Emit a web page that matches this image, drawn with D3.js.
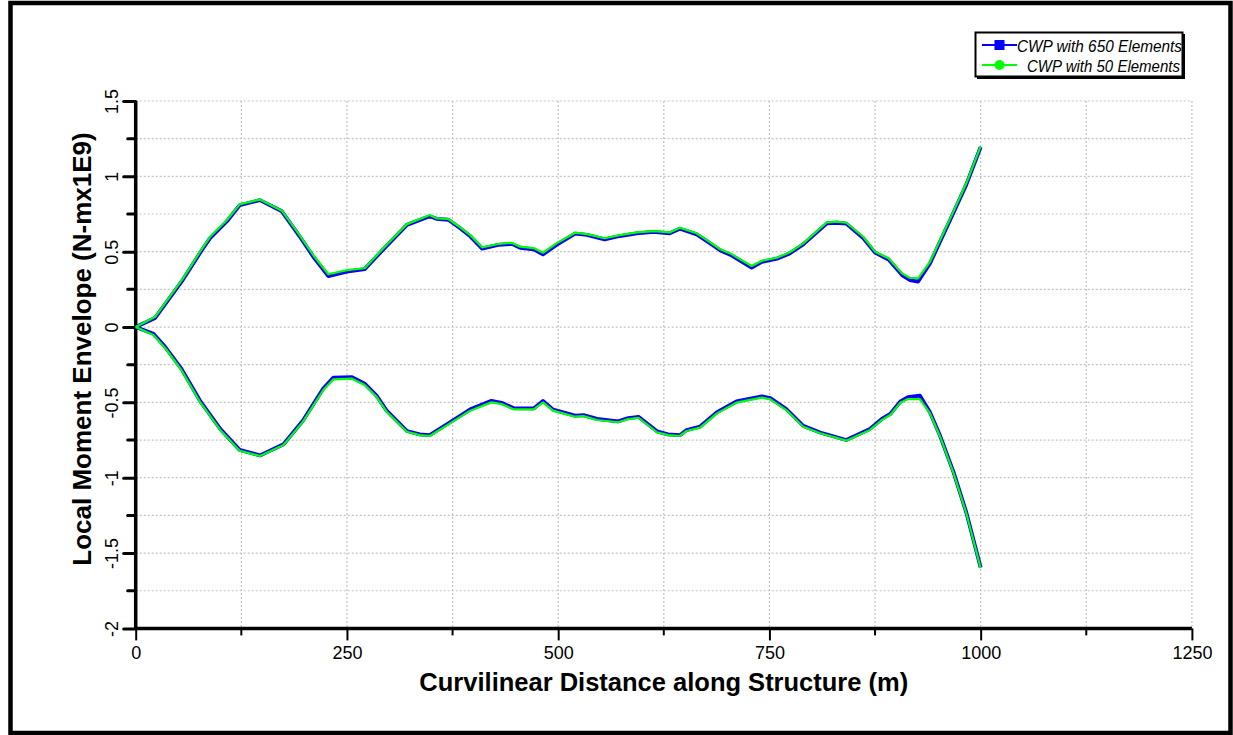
<!DOCTYPE html>
<html><head><meta charset="utf-8">
<script src="https://cdn.jsdelivr.net/npm/d3@7/dist/d3.min.js"></script>
<style>body{margin:0;background:#fff;}svg{display:block;font-family:"Liberation Sans",Arial,sans-serif;}</style>
</head><body>
<svg id="c" width="1233" height="735"></svg>
<script>
// ---- data ----
const xTickValues = [0, 250, 500, 750, 1000, 1250];
const yTickValues = [-2, -1.5, -1, -0.5, 0, 0.5, 1, 1.5];
const yTickLabels = ["-2", "-1.5", "-1", "-0.5", "0", "0.5", "1", "1.5"];
const seriesNames = ["CWP with 650 Elements", "CWP with 50 Elements"];

const xUpper = [0,23,56,78,88,108,123,147,173,194,210,228,250,271,293,321,348,356,370,384,396,410,429,445,455,471,482,498,520,534,555,573,593,613,632,644,664,676,692,705,729,741,759,774,790,818,830,841,861,875,891,907,916,926,940,964,983,1000];
const yUpper50 = [0,0.068,0.323,0.516,0.599,0.710,0.814,0.847,0.772,0.610,0.478,0.350,0.378,0.390,0.522,0.683,0.743,0.721,0.717,0.662,0.610,0.529,0.551,0.559,0.533,0.524,0.493,0.555,0.626,0.617,0.589,0.610,0.628,0.637,0.628,0.659,0.622,0.577,0.516,0.484,0.405,0.440,0.460,0.496,0.555,0.695,0.699,0.692,0.599,0.500,0.456,0.356,0.327,0.323,0.433,0.721,0.954,1.201];
const yUpper650 = [0,0.060,0.315,0.508,0.590,0.702,0.808,0.842,0.768,0.602,0.468,0.338,0.368,0.384,0.515,0.678,0.735,0.718,0.712,0.655,0.602,0.520,0.545,0.552,0.526,0.515,0.482,0.545,0.620,0.612,0.582,0.604,0.622,0.632,0.622,0.652,0.615,0.570,0.508,0.476,0.395,0.432,0.454,0.488,0.548,0.688,0.692,0.686,0.590,0.494,0.448,0.345,0.312,0.302,0.422,0.712,0.945,1.195];

const xLower = [0,21,35,54,76,100,123,147,175,198,222,234,256,271,285,297,321,336,348,372,396,421,433,447,471,482,494,520,530,546,571,583,595,617,630,644,652,668,688,711,741,751,770,790,810,841,869,883,893,905,914,928,940,952,968,983,1000];
const yLower50 = [0,-0.053,-0.141,-0.285,-0.496,-0.683,-0.821,-0.856,-0.783,-0.628,-0.418,-0.347,-0.343,-0.385,-0.463,-0.562,-0.695,-0.717,-0.723,-0.639,-0.555,-0.500,-0.511,-0.546,-0.546,-0.500,-0.555,-0.595,-0.591,-0.617,-0.632,-0.611,-0.602,-0.699,-0.717,-0.723,-0.690,-0.668,-0.573,-0.502,-0.469,-0.480,-0.551,-0.662,-0.705,-0.754,-0.683,-0.617,-0.584,-0.502,-0.478,-0.478,-0.573,-0.728,-0.971,-1.236,-1.601];
const yLower650 = [0,-0.045,-0.133,-0.276,-0.488,-0.676,-0.815,-0.852,-0.778,-0.620,-0.408,-0.336,-0.333,-0.376,-0.455,-0.555,-0.690,-0.712,-0.718,-0.632,-0.546,-0.490,-0.503,-0.538,-0.540,-0.490,-0.548,-0.588,-0.585,-0.610,-0.626,-0.604,-0.596,-0.692,-0.712,-0.718,-0.684,-0.660,-0.565,-0.494,-0.460,-0.472,-0.544,-0.655,-0.700,-0.750,-0.676,-0.610,-0.577,-0.494,-0.466,-0.455,-0.566,-0.722,-0.965,-1.230,-1.596];

// ---- layout ----
const svg = d3.select("#c");
const L = 135.7, R = 1191.9, T = 101, B = 628.4;
const x = d3.scaleLinear().domain([0, 1250]).range([L, R]);
const y = d3.scaleLinear().domain([-2, 1.5]).range([B, T]);

// outer frame
svg.append("rect").attr("x", 10.5).attr("y", 3).attr("width", 1220).attr("height", 730)
  .attr("fill", "none").attr("stroke", "#000").attr("stroke-width", 4.5);

// grid
const gx = d3.range(125, 1251, 125);
const gy = d3.range(-1.75, 1.51, 0.25);
svg.append("g").selectAll("line").data(gx).join("line")
  .attr("x1", d => x(d)).attr("x2", d => x(d)).attr("y1", T).attr("y2", B)
  .attr("stroke", "#c4c4c4").attr("stroke-width", 1.2).attr("stroke-dasharray", "2,2");
svg.append("g").selectAll("line").data(gy).join("line")
  .attr("x1", L).attr("x2", R).attr("y1", d => y(d)).attr("y2", d => y(d))
  .attr("stroke", "#c4c4c4").attr("stroke-width", 1.2).attr("stroke-dasharray", "2,2");

// axes
const xMinor = d3.range(125, 1250, 250);
const yMinor = d3.range(-1.75, 1.5, 0.5);
const xAxis = d3.axisBottom(x).tickValues(xTickValues).tickSize(12).tickSizeOuter(0).tickFormat(d3.format("d"));
const gX = svg.append("g").attr("transform", `translate(0,${B})`).call(xAxis);
gX.select(".domain").attr("stroke-width", 3.5).attr("d", `M${L},0H${R}`);
gX.selectAll(".tick line").attr("stroke-width", 2);
gX.selectAll(".tick text").attr("font-size", 18).attr("font-family", "Liberation Sans, Arial, sans-serif").attr("dy", 0).attr("y", 31).attr("fill", "#000");
svg.append("g").selectAll("line").data(xMinor).join("line")
  .attr("x1", d => x(d)).attr("x2", d => x(d)).attr("y1", B).attr("y2", B + 7)
  .attr("stroke", "#000").attr("stroke-width", 2);

const yAxis = d3.axisLeft(y).tickValues(yTickValues).tickSize(12).tickSizeOuter(0)
  .tickFormat((d, i) => yTickLabels[i]);
const gY = svg.append("g").attr("transform", `translate(${L},0)`).call(yAxis);
gY.select(".domain").attr("stroke-width", 3.5).attr("d", `M0,${B}V${T}`);
gY.selectAll(".tick line").attr("stroke-width", 3).attr("stroke-linecap", "round");
gY.selectAll(".tick text").attr("font-size", 18).attr("font-family", "Liberation Sans, Arial, sans-serif")
  .attr("fill", "#000").attr("text-anchor", "middle").attr("x", 0).attr("dy", 0)
  .attr("transform", "translate(-18,0) rotate(-90)");
svg.append("g").selectAll("line").data(yMinor).join("line")
  .attr("x1", L - 8).attr("x2", L).attr("y1", d => y(d)).attr("y2", d => y(d))
  .attr("stroke", "#000").attr("stroke-width", 3).attr("stroke-linecap", "round");

// series
const lineGen = d3.line().x(d => x(d[0])).y(d => y(d[1]));
const zip = (xs, ys) => xs.map((v, i) => [v, ys[i]]);
const plots = [
  {pts: zip(xUpper, yUpper650), c: "#0000ff", w: 3.8},
  {pts: zip(xLower, yLower650), c: "#0000ff", w: 3.8},
  {pts: zip(xUpper, yUpper50), c: "#00ff00", w: 2.2},
  {pts: zip(xLower, yLower50), c: "#00ff00", w: 2.2}
];
svg.append("g").selectAll("path").data(plots).join("path")
  .attr("d", d => lineGen(d.pts)).attr("fill", "none")
  .attr("stroke", d => d.c).attr("stroke-width", d => d.w).attr("stroke-linejoin", "round");

// axis titles
svg.append("text").attr("x", (L + R) / 2).attr("y", 691).attr("text-anchor", "middle")
  .attr("font-size", 25.5).attr("font-weight", "bold").text("Curvilinear Distance along Structure (m)");
svg.append("text").attr("transform", "translate(91,349) rotate(-90)").attr("text-anchor", "middle")
  .attr("font-size", 26).attr("font-weight", "bold").text("Local Moment Envelope (N-mx1E9)");

// legend
const lg = svg.append("g");
lg.append("rect").attr("x", 977).attr("y", 34).attr("width", 208).attr("height", 45).attr("fill", "#000");
lg.append("rect").attr("x", 975.5).attr("y", 32.5).attr("width", 207).attr("height", 44)
  .attr("fill", "#fff").attr("stroke", "#000").attr("stroke-width", 2);
const items = [
  {name: seriesNames[0], c: "#0000ff", ly: 45, tx: 1017, tl: 165, shape: "square"},
  {name: seriesNames[1], c: "#00ff00", ly: 65, tx: 1027, tl: 153, shape: "circle"}
];
items.forEach(it => {
  lg.append("line").attr("x1", 982).attr("x2", 1017).attr("y1", it.ly).attr("y2", it.ly)
    .attr("stroke", it.c).attr("stroke-width", 2);
  if (it.shape === "square") {
    lg.append("rect").attr("x", 994.5).attr("y", it.ly - 5).attr("width", 10).attr("height", 10).attr("fill", it.c);
  } else {
    lg.append("circle").attr("cx", 999.5).attr("cy", it.ly).attr("r", 5).attr("fill", it.c);
  }
  lg.append("text").attr("x", it.tx).attr("y", it.ly + 6.5).attr("font-size", 17).attr("font-style", "italic")
    .attr("textLength", it.tl).attr("lengthAdjust", "spacingAndGlyphs").text(it.name);
});
</script>
</body></html>
